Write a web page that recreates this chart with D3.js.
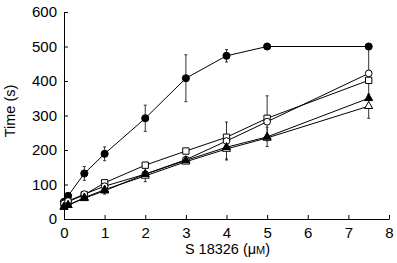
<!DOCTYPE html>
<html><head><meta charset="utf-8">
<script src="https://cdn.jsdelivr.net/npm/d3@7"></script>
<style>body{margin:0;background:#fff}svg{display:block}text{font-family:"Liberation Sans",Arial,sans-serif}</style>
</head><body>
<script>
const xs = [0, 0.1, 0.5, 1, 2, 3, 4, 5, 7.5];
const filledCircle = [50, 67, 132, 189, 292, 408, 473, 500, 500];
const filledCircleErr = [0, 0, 20, 20, 38, 68, 18, 0, 0];
const openSquare = [45, 50, 70, 105, 156, 197, 237, 292, 402];
const openSquareErr = [0, 0, 0, 0, 0, 0, 0, 65, 0];
const openCircle = [45, 52, 72, 95, 130, 172, 226, 282, 422];
const openCircleErr = [0, 0, 0, 0, 0, 0, 55, 0, 70];
const filledTriangle = [35, 40, 60, 82, 130, 170, 208, 238, 350];
const filledTriangleErr = [0, 0, 0, 10, 22, 0, 34, 28, 0];
const openTriangle = [35, 40, 62, 85, 125, 166, 203, 235, 327];
const openTriangleErr = [0, 0, 0, 0, 0, 0, 0, 0, 35];
const xTicks = [0, 1, 2, 3, 4, 5, 6, 7, 8];
const yTicks = [0, 100, 200, 300, 400, 500, 600];

const W = 397, H = 263;
const svg = d3.select("body").append("svg").attr("width", W).attr("height", H);
const x = d3.scaleLinear().domain([0, 8]).range([64, 389]);
const y = d3.scaleLinear().domain([0, 600]).range([219, 12]);

const series = [
  {v: filledCircle, e: filledCircleErr, sym: d3.symbolCircle, fill: "#000", size: 40},
  {v: openSquare, e: openSquareErr, sym: d3.symbolSquare, fill: "#fff", size: 40},
  {v: openCircle, e: openCircleErr, sym: d3.symbolCircle, fill: "#fff", size: 36},
  {v: openTriangle, e: openTriangleErr, sym: d3.symbolTriangle, fill: "#fff", size: 28},
  {v: filledTriangle, e: filledTriangleErr, sym: d3.symbolTriangle, fill: "#000", size: 28}
];

const xAxis = d3.axisBottom(x).tickValues(xTicks).tickSizeInner(-4).tickSizeOuter(0).tickPadding(7);
const yAxis = d3.axisLeft(y).tickValues(yTicks).tickSizeInner(-4).tickSizeOuter(0).tickPadding(7);
const gx = svg.append("g").attr("transform", `translate(0,${y(0)})`).call(xAxis);
const gy = svg.append("g").attr("transform", `translate(${x(0)},0)`).call(yAxis);
[gx, gy].forEach(g => {
  g.selectAll("path").attr("stroke", "#000").attr("stroke-width", 1);
  g.selectAll("line").attr("stroke", "#000");
  g.selectAll("text").attr("font-size", 15).attr("fill", "#000");
});
gy.selectAll("text").attr("dx", "0");
gx.selectAll("text").attr("y", 6).attr("dy", "0.85em");

const line = d3.line().x((d, i) => x(xs[i])).y(d => y(d));
const plot = svg.append("g");
series.forEach(s => {
  plot.append("path").attr("d", line(s.v)).attr("fill", "none").attr("stroke", "#000").attr("stroke-width", 1);
});
series.forEach(s => {
  s.v.forEach((v, i) => {
    if (s.e[i] > 0) {
      const cx = x(xs[i]);
      plot.append("line").attr("x1", cx).attr("x2", cx).attr("y1", y(v - s.e[i])).attr("y2", y(v + s.e[i])).attr("stroke", "#333").attr("stroke-width", 1);
      [v - s.e[i], v + s.e[i]].forEach(t => plot.append("line").attr("x1", cx - 1.5).attr("x2", cx + 1.5).attr("y1", y(t)).attr("y2", y(t)).attr("stroke", "#333"));
    }
  });
});
series.forEach(s => {
  const sym = d3.symbol().type(s.sym).size(s.size);
  plot.selectAll(null).data(s.v).join("path")
    .attr("d", sym)
    .attr("transform", (d, i) => `translate(${x(xs[i])},${y(d)})`)
    .attr("fill", s.fill).attr("stroke", "#000").attr("stroke-width", 1);
});

const xl = svg.append("text").attr("x", x(4) + 1).attr("y", 254).attr("text-anchor", "middle").attr("font-size", 14.5);
xl.append("tspan").text("S 18326 (μ");
xl.append("tspan").attr("font-size", 11).text("M");
xl.append("tspan").text(")");
svg.append("text").attr("transform", `translate(15,111) rotate(-90)`).attr("text-anchor", "middle").attr("font-size", 14.5).text("Time (s)");
</script>
</body></html>
